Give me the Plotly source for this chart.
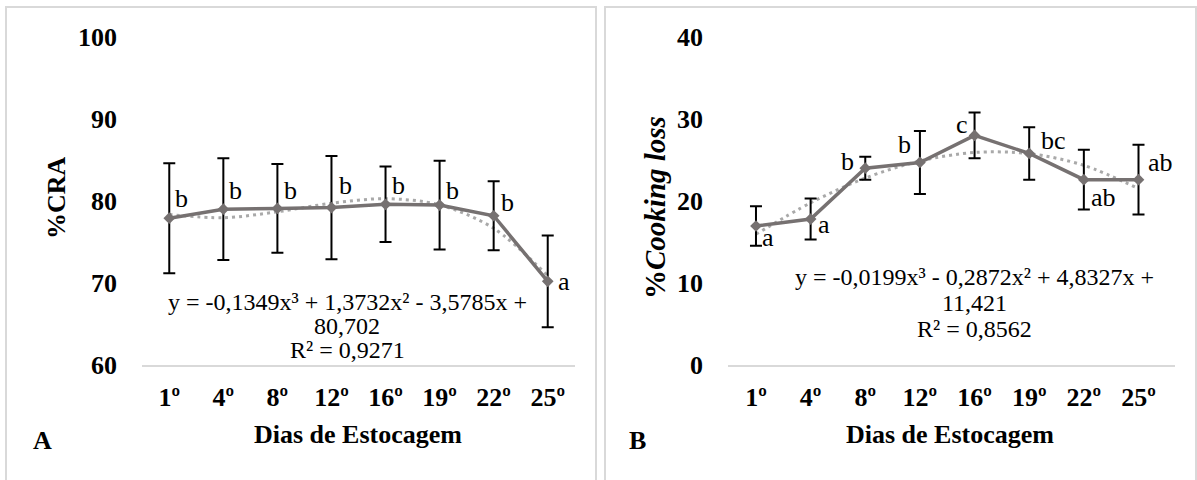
import plotly.graph_objects as go

W, H = 1197, 480


def px(x):
    return x / W


def py(y):
    return 1 - y / H


days = ["1º", "4º", "8º", "12º", "16º", "19º", "22º", "25º"]

# Panel A: %CRA
cra_mean = [77.9, 79.0, 79.1, 79.2, 79.6, 79.5, 78.2, 70.2]
cra_sd = [6.7, 6.2, 5.4, 6.3, 4.6, 5.4, 4.2, 5.6]
cra_trend = [78.36, 77.96, 78.68, 79.73, 80.28, 79.53, 76.67, 70.89]
cra_letters = ["b", "b", "b", "b", "b", "b", "b", "a"]
cra_eq = ["y = -0,1349x³ + 1,3732x² - 3,5785x +", "80,702", "R² = 0,9271"]

# Panel B: %Cooking loss
cl_mean = [16.95, 17.8, 24.0, 24.7, 28.0, 25.8, 22.6, 22.6]
cl_sd = [2.4, 2.5, 1.4, 3.85, 2.8, 3.2, 3.65, 4.25]
cl_trend = [15.95, 19.78, 22.80, 24.88, 25.92, 25.78, 24.35, 21.51]
cl_letters = ["a", "a", "b", "b", "c", "bc", "ab", "ab"]
cl_eq = ["y = -0,0199x³ - 0,2872x² + 4,8327x +", "11,421", "R² = 0,8562"]

# letter label offsets in pixels (x right, y up)
cra_shift = [(12, 20), (12, 19), (13, 18), (14, 22), (13, 19), (13, 15), (14, 13), (16, 0)]
cl_shift = [(12, -11), (13, -5), (-18, 7), (-15, 18), (-13, 11), (24, 13), (20, -18), (22, 17)]

LINE = "#767171"
TREND = "#A9A9A9"
SERIF = "Liberation Serif"

fig = go.Figure()


def add_panel(xa, ya, mean, sd, trend):
    fig.add_trace(go.Scatter(
        x=days, y=trend, xaxis=xa, yaxis=ya, mode="lines",
        line=dict(color=TREND, width=3, dash="3px,4px", shape="spline", smoothing=0.9),
        hoverinfo="skip", showlegend=False))
    fig.add_trace(go.Scatter(
        x=days, y=mean, xaxis=xa, yaxis=ya, mode="lines+markers",
        line=dict(color=LINE, width=3.5),
        marker=dict(symbol="diamond", size=9, color=LINE),
        error_y=dict(type="data", array=sd, visible=True, color="black",
                     thickness=2, width=6),
        showlegend=False))


add_panel("x", "y", cra_mean, cra_sd, cra_trend)
add_panel("x2", "y2", cl_mean, cl_sd, cl_trend)

tickfont = dict(family=SERIF, size=26, color="black", weight="bold")
ydom = [py(365), py(37)]

common_x = dict(type="category", showgrid=False, showline=True, linecolor="#D9D9D9",
                linewidth=2, tickfont=tickfont, ticks="", ticklabelstandoff=8,
                zeroline=False, automargin=False, fixedrange=True)
common_y = dict(dtick=10, showgrid=False, zeroline=False, showline=False,
                tickfont=tickfont, ticklabelstandoff=24, automargin=False,
                fixedrange=True)

fig.update_layout(
    width=W, height=H,
    margin=dict(l=0, r=0, t=0, b=0, autoexpand=False),
    paper_bgcolor="white", plot_bgcolor="white",
    font=dict(family=SERIF, color="black"),
    xaxis=dict(domain=[px(142), px(575)], anchor="y", **common_x),
    yaxis=dict(domain=ydom, range=[60, 100], anchor="x", **common_y),
    xaxis2=dict(domain=[px(728), px(1175)], anchor="y2", **common_x),
    yaxis2=dict(domain=ydom, range=[0, 40], anchor="x2", **common_y),
)

ann = []
lblfont = dict(family=SERIF, size=26, color="black")
for i, (d, v) in enumerate(zip(days, cra_mean)):
    dx, dy = cra_shift[i]
    ann.append(dict(x=d, y=v, xref="x", yref="y", text=cra_letters[i],
                    showarrow=False, xshift=dx, yshift=dy, font=lblfont,
                    xanchor="center", yanchor="middle"))
for i, (d, v) in enumerate(zip(days, cl_mean)):
    dx, dy = cl_shift[i]
    ann.append(dict(x=d, y=v, xref="x2", yref="y2", text=cl_letters[i],
                    showarrow=False, xshift=dx, yshift=dy, font=lblfont,
                    xanchor="center", yanchor="middle"))

eqfont = dict(family=SERIF, size=24, color="black")
for line, yy in zip(cra_eq, [302, 326, 350]):
    ann.append(dict(x=px(347), y=py(yy), xref="paper", yref="paper", text=line,
                    showarrow=False, font=eqfont, xanchor="center", yanchor="middle"))
for line, yy in zip(cl_eq, [277, 303, 329]):
    ann.append(dict(x=px(974), y=py(yy), xref="paper", yref="paper", text=line,
                    showarrow=False, font=eqfont, xanchor="center", yanchor="middle"))

titlefont = dict(family=SERIF, size=26, color="black", weight="bold")


def label(x, y, text, angle=0, font=titlefont):
    ann.append(dict(x=px(x), y=py(y), xref="paper", yref="paper", text=text,
                    textangle=angle, showarrow=False, font=font,
                    xanchor="center", yanchor="middle"))


label(56, 198, "%CRA", -90)
label(655, 208, "%<i>Cooking loss</i>", -90,
      dict(family=SERIF, size=29, color="black", weight="bold"))
label(358, 434, "Dias de Estocagem")
label(950, 434, "Dias de Estocagem")
label(42, 440, "A")
label(637, 440, "B")
fig.update_layout(annotations=ann)

border = dict(color="#D9D9D9", width=2)
fig.update_layout(shapes=[
    dict(type="rect", xref="paper", yref="paper", x0=px(6), x1=px(596),
         y0=-0.05, y1=py(7), line=border),
    dict(type="rect", xref="paper", yref="paper", x0=px(605), x1=px(1196),
         y0=-0.05, y1=py(7), line=border),
])

fig.write_html(
    "out.html",
    config={"displayModeBar": False},
    post_script="document.body.style.margin='0';document.body.style.overflow='hidden';",
)
